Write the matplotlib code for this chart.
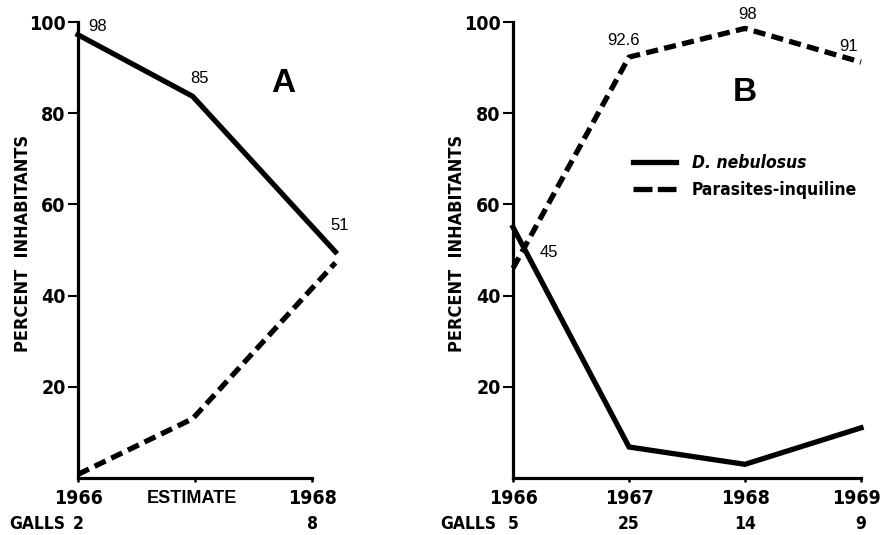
import matplotlib
matplotlib.use("Agg")
import matplotlib.pyplot as plt
from matplotlib.lines import Line2D

plt.rcParams['font.family'] = ['DejaVu Sans']

# panel A: 1966 -> estimate -> 1968
a_ticks = [0, 1, 2]
a_ticklabels = ["1966", "ESTIMATE", "1968"]
a_x = [0, 0.98, 2.2]
a_dneb = [97.2, 83.7, 49.6]
a_para = [0.8, 13.0, 47.2]
a_dneb_labels = ["98", "85", "51"]
a_galls = ["2", "8"]
a_galls_x = [0, 2]

# panel B: 1966-1969
b_years = ["1966", "1967", "1968", "1969"]
b_x = [0, 1, 2, 3]
b_dneb = [55.0, 6.8, 3.0, 11.0]
b_para = [46.0, 92.3, 98.6, 91.2]
b_para_labels = ["45", "92.6", "98", "91"]
b_galls = ["5", "25", "14", "9"]

yticks = [20, 40, 60, 80, 100]

LW = 3.8
DASH = (2.3, 1.2)

fig = plt.figure(figsize=(8.8, 5.35), dpi=100)
axA = fig.add_axes([78 / 880, 57 / 535, 234 / 880, 456 / 535])
axB = fig.add_axes([513 / 880, 57 / 535, 348 / 880, 456 / 535])

narrow = dict(family=['DejaVu Sans'], weight='bold', stretch='condensed')
plain = dict(family=['Liberation Sans', 'DejaVu Sans'])

YEAR_Y = -0.046   # axes coords of the year row
GALLS_Y = -0.101  # axes coords of the galls row


def style(ax, xmax, label_x):
    ax.set_xlim(0, xmax)
    ax.set_ylim(0, 100)
    for s in ["top", "right"]:
        ax.spines[s].set_visible(False)
    for s in ["left", "bottom"]:
        ax.spines[s].set_linewidth(2.3)
    ax.set_yticks(yticks)
    ax.set_yticklabels([str(v) for v in yticks], fontsize=14, **narrow)
    ax.tick_params(axis="y", direction="out", length=7.5, width=1.5, pad=1.5)
    ax.tick_params(axis="x", direction="out", length=3, width=1.8, labelbottom=False)
    ax.set_ylabel("PERCENT  INHABITANTS", fontsize=13, **narrow)
    ax.yaxis.set_label_coords(label_x, 0.515)


def xrow(ax, xs, labels, yax, size, nudge=None, **kw):
    tr = ax.get_xaxis_transform()
    for i, (x, t) in enumerate(zip(xs, labels)):
        dx = nudge.get(i, 0) if nudge else 0
        ax.annotate(t, (x, yax), xycoords=tr, xytext=(dx, 0), textcoords="offset points",
                    ha="center", va="center", fontsize=size, annotation_clip=False, **kw)


# ---- panel A
style(axA, 2, -0.195)
axA.plot(a_x, a_dneb, color="k", lw=LW, solid_joinstyle="miter", clip_on=False)
axA.plot(a_x, a_para, color="k", lw=LW, dashes=DASH, clip_on=False)
axA.set_xticks(a_ticks)
xrow(axA, [a_ticks[0], a_ticks[2]], [a_ticklabels[0], a_ticklabels[2]], YEAR_Y, 14, **narrow)
xrow(axA, [a_ticks[1]], [a_ticklabels[1]], YEAR_Y, 13, nudge={0: -2}, weight="bold", **plain)
offsA = [(14, 6), (5, 13), (3, 19)]
for x, y, t, o in zip(a_x, a_dneb, a_dneb_labels, offsA):
    axA.annotate(t, (x, y), xytext=o, textcoords="offset points",
                 ha="center", va="center", fontsize=12, annotation_clip=False, **plain)
axA.text(1.75, 86.5, "A", fontsize=24, weight="bold", ha="center", va="center", **plain)
xrow(axA, [-0.35], ["GALLS"], GALLS_Y, 12.5, **narrow)
xrow(axA, a_galls_x, a_galls, GALLS_Y, 12.5, **narrow)

# ---- panel B
style(axB, 3, -0.135)
axB.plot(b_x, b_dneb, color="k", lw=LW, solid_joinstyle="miter", clip_on=False)
axB.plot(b_x, b_para, color="k", lw=LW, dashes=DASH, clip_on=False)
axB.set_xticks(b_x)
xrow(axB, b_x, b_years, YEAR_Y, 14, nudge={3: -3}, **narrow)
offsB = [(26, 11), (-4, 12), (2, 10), (-9, 11)]
for x, y, t, o in zip(b_x, b_para, b_para_labels, offsB):
    axB.annotate(t, (x, y), xytext=o, textcoords="offset points",
                 ha="center", va="center", fontsize=12, annotation_clip=False, **plain)
axB.text(2.0, 84.5, "B", fontsize=24, weight="bold", ha="center", va="center", **plain)
xrow(axB, [-0.39], ["GALLS"], GALLS_Y, 12.5, **narrow)
xrow(axB, b_x, b_galls, GALLS_Y, 12.5, **narrow)

handles = [Line2D([], [], color="k", lw=LW),
           Line2D([], [], color="k", lw=LW, dashes=(3.6, 1.0))]
leg = axB.legend(handles, ["D. nebulosus", "Parasites-inquiline"],
                 loc="upper left", bbox_to_anchor=(0.3, 0.745), frameon=False,
                 handlelength=2.5, handletextpad=0.9, labelspacing=0.55,
                 prop=dict(family=['DejaVu Sans'], stretch='condensed',
                           weight='bold', size=12.5))
leg.get_texts()[0].set_style("italic")

fig.savefig("out.png", dpi=100)
